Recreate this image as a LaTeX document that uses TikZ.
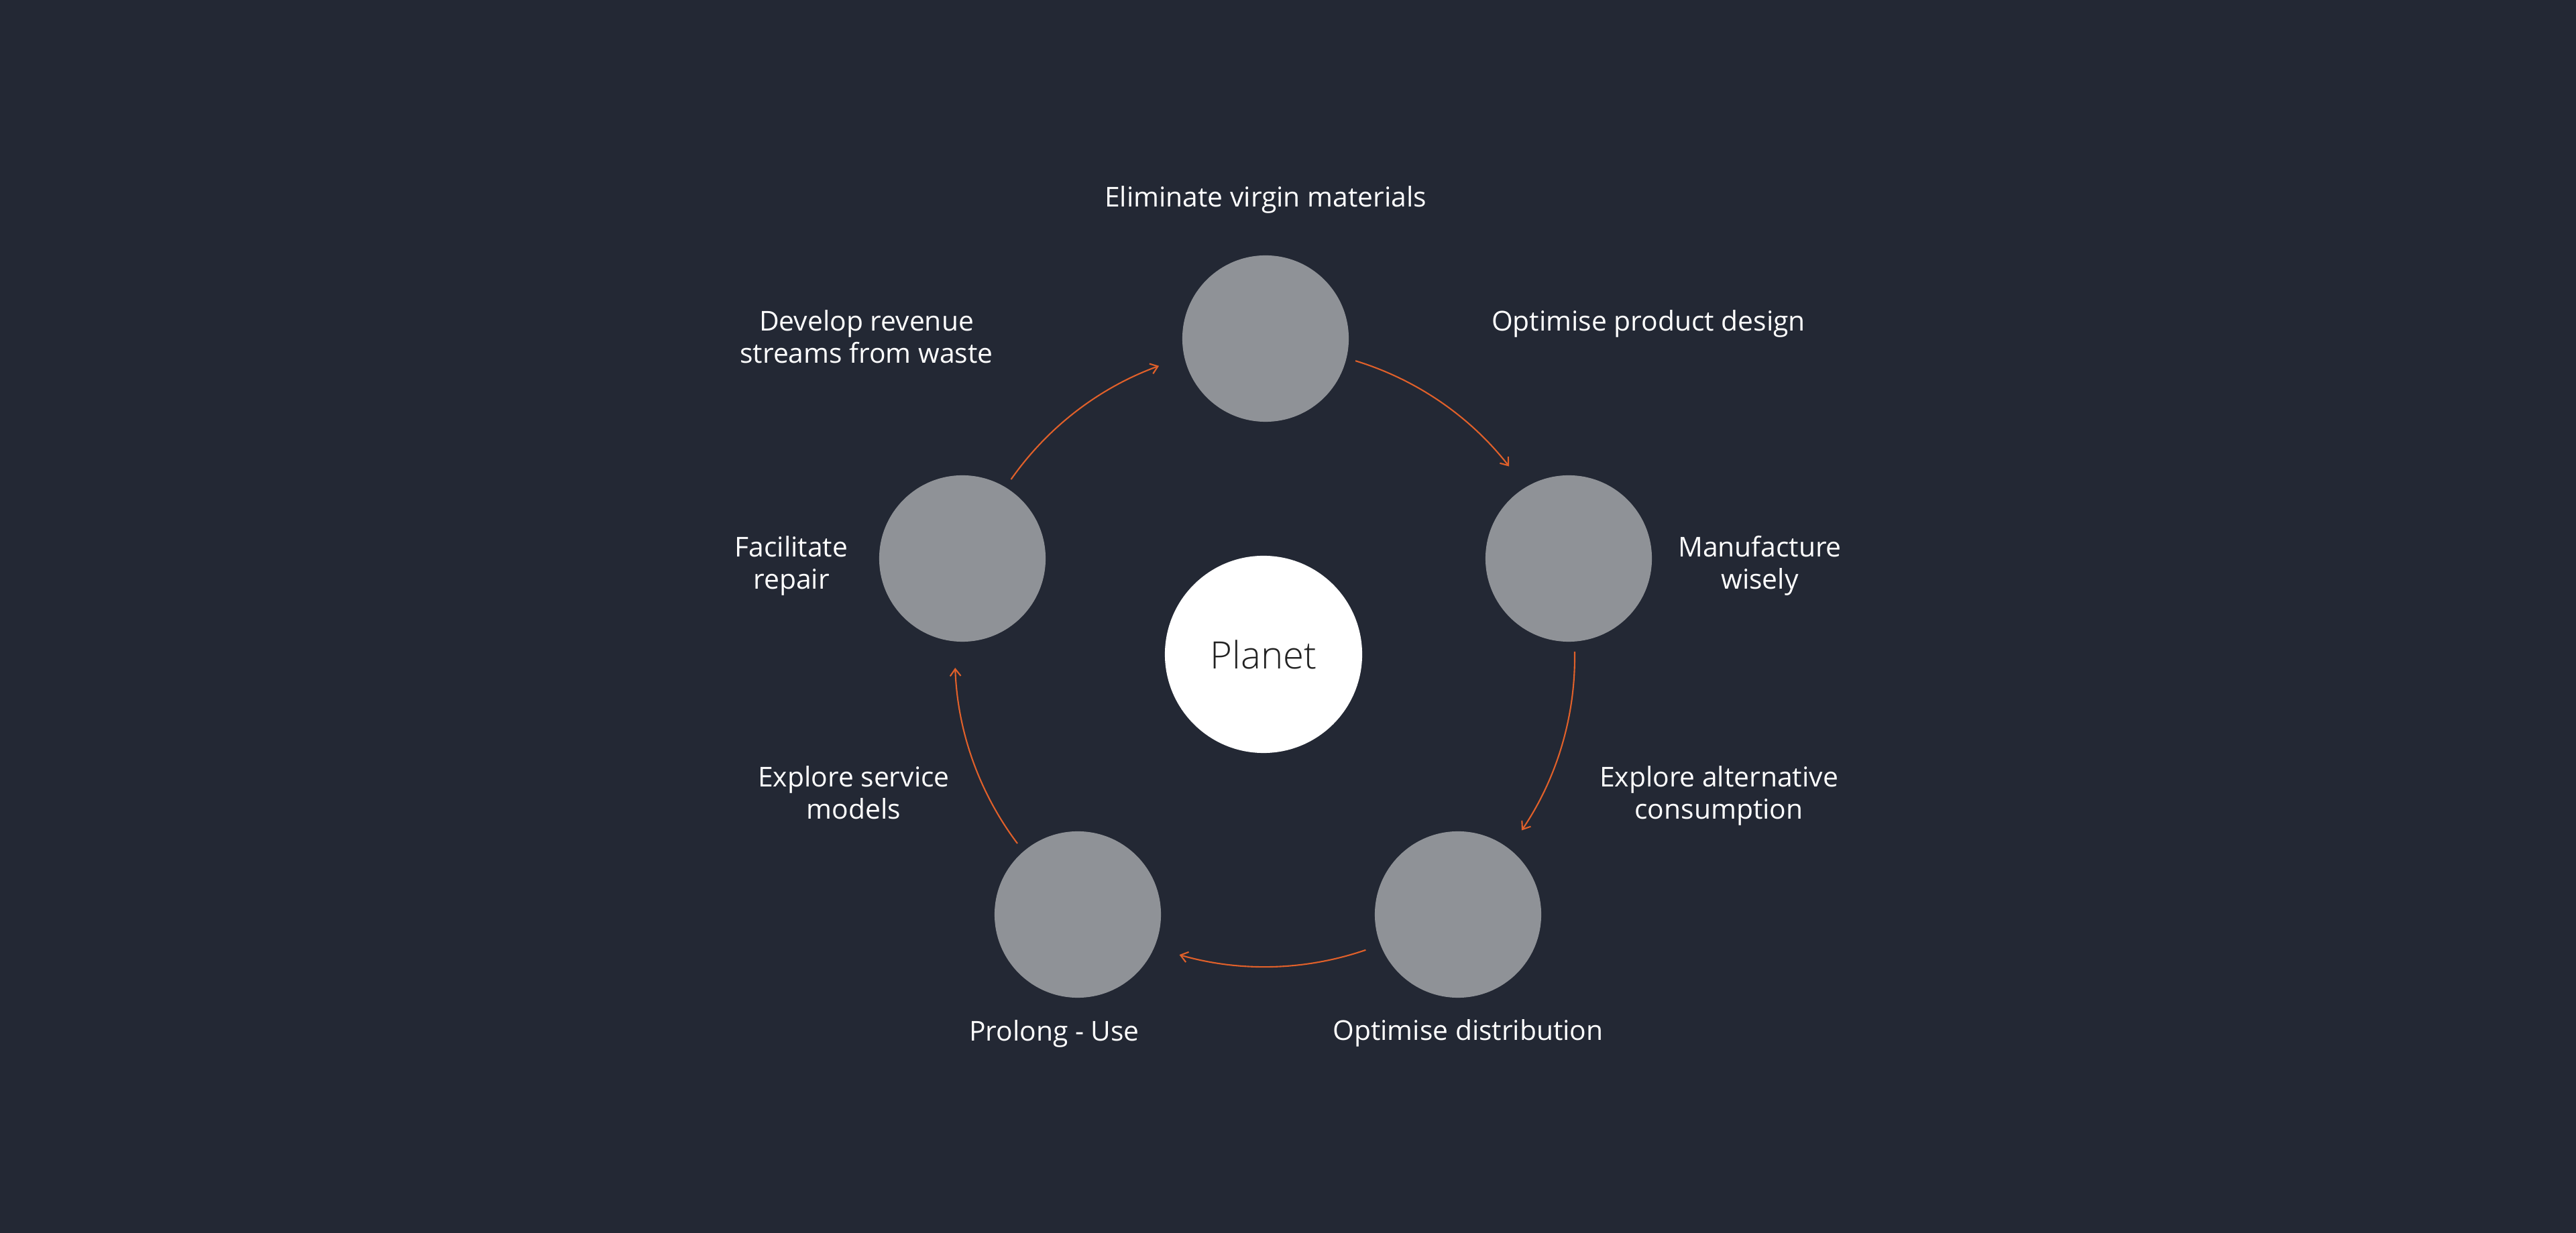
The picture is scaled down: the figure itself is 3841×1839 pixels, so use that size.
\documentclass[tikz,border=0pt]{standalone}
\usepackage{fontspec}
\setmainfont{Open Sans}
\newfontfamily\planetfont{Open Sans Light}
\usetikzlibrary{arrows.meta}
\definecolor{bg}{HTML}{232834}
\definecolor{disc}{HTML}{8F9297}
\definecolor{arr}{HTML}{E0602A}
\definecolor{planettext}{HTML}{222222}
\begin{document}
\begin{tikzpicture}[x=0.01cm,y=0.01cm,
  stage/.style={circle,fill=disc,minimum size=2.48cm,inner sep=0pt},
  lbl/.style={text=white,font=\fontsize{11.6}{13.9}\selectfont,align=center,anchor=base,inner sep=0pt},
  flow/.style={draw=arr,line width=0.6pt,-{Straight Barb[length=3pt,width=4.5pt]}}]
\fill[bg] (0,0) rectangle (3841,1839);
\useasboundingbox (0,0) rectangle (3841,1839);
\coordinate (ring) at (1886,859);
% stages
\node[stage] (s1) at (1887,1334) {};
\node[stage] (s2) at (2339,1006) {};
\node[stage] (s3) at (2174,475) {};
\node[stage] (s4) at (1607,475) {};
\node[stage] (s5) at (1435,1006) {};
\node[circle,fill=white,minimum size=2.94cm,inner sep=0pt,text=planettext,
  font=\planetfont\fontsize{16}{19}\selectfont] (planet) at (1884,863) {Planet};
% labels
\node[lbl] (l1) at (1887,1530) {Eliminate virgin materials};
\node[lbl] (l2) at (2458,1345) {Optimise product design};
\node[lbl] (l3) at (1292,1297) {Develop revenue\\streams from waste};
\node[lbl] (l4) at (2624,960) {Manufacture\\wisely};
\node[lbl] (l5) at (1180,960) {Facilitate\\repair};
\node[lbl] (l6) at (2563,617) {Explore alternative\\consumption};
\node[lbl] (l7) at (1273,617) {Explore service\\models};
\node[lbl] (l8) at (2189,287) {Optimise distribution};
\node[lbl] (l9) at (1572,286) {Prolong - Use};
% arcs
\path (ring) ++(73:462) coordinate (a1s);
\path (ring) ++(1:462) coordinate (a2s);
\path (ring) ++(-71:462) coordinate (a3s);
\path (ring) ++(-143:462) coordinate (a4s);
\path (ring) ++(145:462) coordinate (a5s);
\draw[flow] (a1s) arc[start angle=73,end angle=38,radius=4.62cm];
\draw[flow] (a2s) arc[start angle=1,end angle=-34,radius=4.62cm];
\draw[flow] (a3s) arc[start angle=-71,end angle=-106,radius=4.62cm];
\draw[flow] (a4s) arc[start angle=-143,end angle=-178,radius=4.62cm];
\draw[flow] (a5s) arc[start angle=145,end angle=110,radius=4.62cm];
\end{tikzpicture}
\end{document}
